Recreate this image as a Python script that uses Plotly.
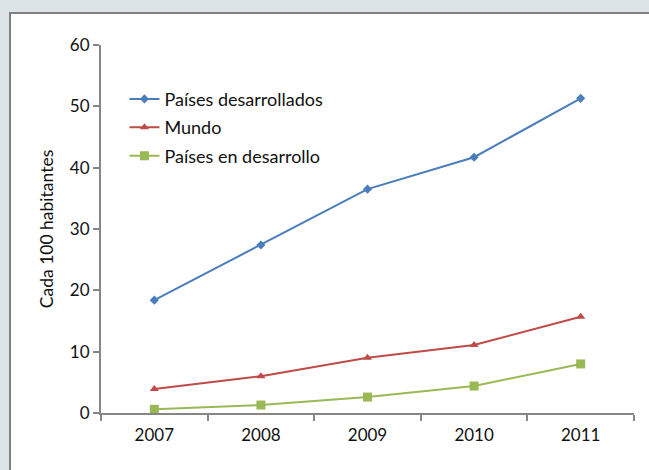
import plotly.graph_objects as go

years = ["2007", "2008", "2009", "2010", "2011"]
desarrollados = [18.4, 27.4, 36.5, 41.7, 51.3]
mundo = [3.9, 6.0, 9.0, 11.1, 15.7]
en_desarrollo = [0.6, 1.3, 2.6, 4.4, 8.0]
series_names = ["Países desarrollados", "Mundo", "Países en desarrollo"]
end_labels = ["51.3", "15.7", "8.0"]

colors = ["#4a7ebb", "#be4b48", "#98b954"]
symbols = ["diamond", "triangle-up", "square"]
msizes = [7, 8, 9]
values = [desarrollados, mundo, en_desarrollo]

FONT = "Lato, 'Open Sans', sans-serif"
TXT = "#111111"

fig = go.Figure()
for i, (name, vals) in enumerate(zip(series_names, values)):
    fig.add_trace(go.Scatter(
        x=years, y=vals, name=name, mode="lines+markers",
        line=dict(color=colors[i], width=2),
        marker=dict(symbol=symbols[i], size=msizes[i], color=colors[i]),
        legendgroup=f"g{i}",
    ))
    fig.add_annotation(x=years[-1], y=vals[-1], text=end_labels[i],
                       showarrow=False, xanchor="left", xshift=13,
                       font=dict(size=17, color=TXT, family=FONT))

L, R, T, B = 101, 15, 45, 57
W, H = 649, 470
pw, ph = W - L - R, H - T - B
# white panel with dark border
fig.add_shape(type="rect", xref="paper", yref="paper", layer="below",
              x0=(10 - L) / pw, x1=(W + 5 - L) / pw,
              y0=-(H + 5 - T - ph) / ph, y1=(H - B - 13) / ph,
              fillcolor="white", line=dict(color="#808080", width=2))

fig.update_layout(
    width=W, height=H,
    margin=dict(l=L, r=R, t=T, b=B, autoexpand=False),
    paper_bgcolor="#dde4e8", plot_bgcolor="white",
    font=dict(family=FONT, size=17, color=TXT),
    showlegend=True,
    legend=dict(x=0.044, y=0.903, xanchor="left", yanchor="top",
                bgcolor="rgba(0,0,0,0)", tracegroupgap=2,
                traceorder="grouped", font=dict(size=18, family=FONT, color=TXT)),
    xaxis=dict(type="category", range=[-0.5, 4.5], showline=True,
               linecolor="#868686", linewidth=2, ticks="outside",
               tickson="boundaries", ticklen=6, tickcolor="#868686",
               tickwidth=2, showgrid=False, zeroline=False,
               ticklabelstandoff=6, tickfont=dict(size=17)),
    yaxis=dict(range=[0, 60], dtick=10, showline=True, linecolor="#868686",
               linewidth=2, ticks="outside", ticklen=6, tickcolor="#868686",
               tickwidth=2, showgrid=False, zeroline=False,
               tickfont=dict(size=17),
               title=dict(text="Cada 100 habitantes", font=dict(size=17.5),
                          standoff=12)),
)

fig.write_html("out.html", config={"displayModeBar": False},
               post_script="document.body.style.margin='0';")
